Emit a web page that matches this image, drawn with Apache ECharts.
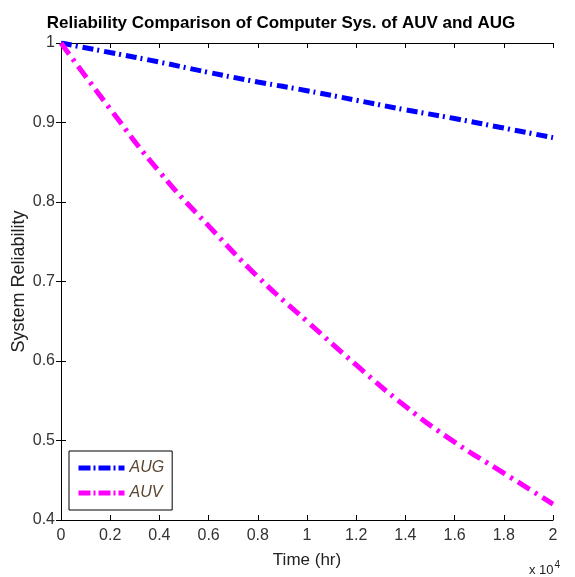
<!DOCTYPE html>
<html>
<head>
<meta charset="utf-8">
<script src="https://cdn.jsdelivr.net/npm/echarts@6/dist/echarts.min.js"></script>
<style>
  html, body { margin: 0; padding: 0; background: #fff; }
  #chart { width: 575px; height: 577px; }
</style>
</head>
<body>
<div id="chart"></div>
<script>
// time in units of 10^4 hr
var timeVals = [0, 0.2, 0.4, 0.6, 0.8, 1.0, 1.2, 1.4, 1.6, 1.8, 2.0];
var augVals = [1, 0.988, 0.976, 0.963, 0.951, 0.940, 0.928, 0.916, 0.905, 0.893, 0.881];
var auvVals = [1, 0.917, 0.838, 0.770, 0.706, 0.650, 0.595, 0.543, 0.498, 0.459, 0.420];

function pairs(ys) {
    return timeVals.map(function (t, i) { return [t, ys[i]]; });
}

var dom = document.getElementById('chart');
var myChart = echarts.init(dom);
var fontName = 'Liberation Sans';

var option = {
    animation: false,
    backgroundColor: '#fff',
    title: {
        text: 'Reliability Comparison of Computer Sys. of AUV and AUG',
        left: 276,
        textAlign: 'center',
        top: 10,
        textStyle: { fontFamily: fontName, fontSize: 17, fontWeight: 'bold', color: '#000' }
    },
    grid: { left: 61, top: 43, right: 22, bottom: 57, outerBoundsMode: 'none', containLabel: false },
    legend: {
        orient: 'vertical',
        left: 69,
        top: 451,
        itemWidth: 46,
        itemHeight: 14,
        itemGap: 9,
        padding: [9, 8, 9, 7],
        backgroundColor: '#fff',
        borderColor: '#000',
        borderWidth: 1,
        borderRadius: 0,
        itemStyle: { opacity: 0 },
        lineStyle: { width: 5, type: [12, 3, 2, 3], cap: 'butt' },
        textStyle: { fontFamily: fontName, fontSize: 16, fontStyle: 'italic', color: '#5a4630' },
        data: ['AUG', 'AUV']
    },
    xAxis: [{
        type: 'value',
        min: 0, max: 2, interval: 0.2,
        name: 'Time (hr)',
        nameLocation: 'middle',
        nameGap: 32,
        nameMoveOverlap: false,
        nameTextStyle: { fontFamily: fontName, fontSize: 17, color: '#222' },
        axisLine: { lineStyle: { color: '#000', width: 1 } },
        axisTick: { inside: true, length: 5, lineStyle: { color: '#000' } },
        axisLabel: { fontFamily: fontName, fontSize: 16, color: '#333', margin: 8 },
        splitLine: { show: false }
    }, {
        type: 'value', position: 'top',
        min: 0, max: 2, interval: 0.2,
        axisLine: { lineStyle: { color: '#000', width: 1 } },
        axisTick: { inside: true, length: 5, lineStyle: { color: '#000' } },
        axisLabel: { show: false },
        splitLine: { show: false }
    }],
    yAxis: [{
        type: 'value',
        min: 0.4, max: 1, interval: 0.1,
        name: 'System Reliability',
        nameLocation: 'middle',
        nameGap: 33,
        nameMoveOverlap: false,
        nameTextStyle: { fontFamily: fontName, fontSize: 18, color: '#222' },
        axisLine: { show: true, lineStyle: { color: '#000', width: 1 } },
        axisTick: { show: true, inside: true, length: 5, lineStyle: { color: '#000' } },
        axisLabel: {
            fontFamily: fontName, fontSize: 16, color: '#333', margin: 6,
            formatter: function (v) { return +v.toFixed(1) + ''; }
        },
        splitLine: { show: false }
    }, {
        type: 'value', position: 'right',
        min: 0.4, max: 1, interval: 0.1,
        axisLine: { show: true, lineStyle: { color: '#000', width: 1 } },
        axisTick: { show: true, inside: true, length: 5, lineStyle: { color: '#000' } },
        axisLabel: { show: false },
        splitLine: { show: false }
    }],
    graphic: [{
        type: 'text',
        left: 529,
        top: 560,
        style: {
            text: 'x 10{s|4}',
            fontFamily: fontName,
            fontSize: 13,
            fill: '#222',
            rich: { s: { fontSize: 10, verticalAlign: 'top', padding: [0, 0, 10, 1] } }
        }
    }],
    series: [{
        name: 'AUG',
        type: 'line',
        smooth: true,
        symbol: 'none',
        data: pairs(augVals),
        color: '#0000ff',
        lineStyle: { color: '#0000ff', width: 5, type: [11, 4, 2, 5], cap: 'butt' }
    }, {
        name: 'AUV',
        type: 'line',
        smooth: true,
        symbol: 'none',
        data: pairs(auvVals),
        color: '#ff00ff',
        lineStyle: { color: '#ff00ff', width: 5, type: [14, 6, 3, 6], cap: 'butt' }
    }]
};

if (option && typeof option === 'object') {
    myChart.setOption(option);
}
</script>
</body>
</html>
